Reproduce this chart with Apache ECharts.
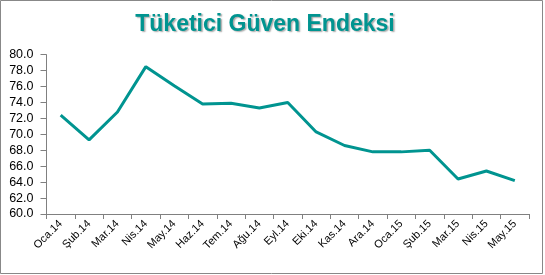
<!DOCTYPE html>
<html><head><meta charset="utf-8">
<script src="https://cdn.jsdelivr.net/npm/echarts@6/dist/echarts.min.js"></script>
<style>html,body{margin:0;padding:0;background:#fff}#c{width:545px;height:275px}</style>
</head><body><div id="c"></div>
<script>
var categories = ['Oca.14','Şub.14','Mar.14','Nis.14','May.14','Haz.14','Tem.14','Ağu.14','Eyl.14','Eki.14','Kas.14','Ara.14','Oca.15','Şub.15','Mar.15','Nis.15','May.15'];
var values = [72.4, 69.3, 72.8, 78.5, 76.1, 73.8, 73.9, 73.3, 74.0, 70.3, 68.6, 67.8, 67.8, 68.0, 64.4, 65.4, 64.2];
var yMin = 60, yMax = 80, yStep = 2;

var chart = echarts.init(document.getElementById('c'), null, {renderer:'canvas'});
chart.setOption({
  animation: false,
  backgroundColor: '#fff',
  title: {
    text: 'Tüketici Güven Endeksi',
    left: 260, top: 8, textAlign: 'center',
    textStyle: {
      fontFamily: 'Liberation Sans, Arial, sans-serif', fontSize: 23, fontWeight: 'bold',
      color: '#009490', textShadowColor: 'rgba(0,0,0,0.35)', textShadowOffsetX: 1.5, textShadowOffsetY: 1.5, textShadowBlur: 1.5
    }
  },
  graphic: [{
    type: 'rect', shape: {x: 0.5, y: 0.5, width: 542, height: 273},
    style: {fill: 'none', stroke: '#888', lineWidth: 1}, silent: true, z: -1
  }],
  grid: {left: 46.5, top: 54.7, right: 16, bottom: 61, containLabel: false},
  xAxis: {
    type: 'category', data: categories, boundaryGap: true,
    axisLine: {lineStyle: {color: '#808080', width: 1}},
    axisTick: {show: true, length: 5, interval: 0, lineStyle: {color: '#808080'}},
    axisLabel: {interval: 0, rotate: 45, fontSize: 11, color: '#000', fontFamily: 'Liberation Sans, Arial, sans-serif', margin: 8}
  },
  yAxis: {
    type: 'value', min: yMin, max: yMax, interval: yStep,
    axisLine: {show: true, lineStyle: {color: '#808080', width: 1}},
    axisTick: {show: true, length: 6, lineStyle: {color: '#808080'}},
    splitLine: {show: false},
    axisLabel: {fontSize: 12.5, color: '#000', fontFamily: 'Liberation Sans, Arial, sans-serif', margin: 13,
      formatter: function(v){ return v.toFixed(1); }}
  },
  series: [{
    type: 'line', data: values, symbol: 'none',
    lineStyle: {color: '#009490', width: 3}
  }]
});
</script></body></html>
